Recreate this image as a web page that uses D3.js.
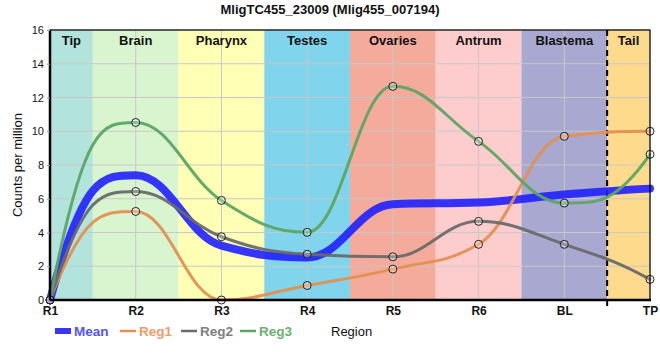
<!DOCTYPE html>
<html><head><meta charset="utf-8">
<script src="https://cdn.jsdelivr.net/npm/d3@7"></script>
<style>body{margin:0;background:#fff;font-family:Arial,"Liberation Sans",sans-serif}</style>
</head><body><svg id="c" width="660" height="360"></svg>
<script>
const categories = ["R1","R2","R3","R4","R5","R6","BL","TP"];
const yTicks = [0,2,4,6,8,10,12,14,16];
const regionNames = ["Tip","Brain","Pharynx","Testes","Ovaries","Antrum","Blastema","Tail"];
const regionColors = ["#b3e3dd","#d9f5d0","#ffffb6","#80d4eb","#f4ab9c","#fdcccc","#a8a8d0","#fdda8c"];
const meanValues = [0, 7.4, 3.22, 2.52, 5.68, 5.78, 6.25, 6.6];
const reg1Values = [0, 5.25, 0, 0.86, 1.83, 3.3, 9.7, 10.0];
const reg2Values = [0, 6.43, 3.75, 2.71, 2.56, 4.66, 3.3, 1.22];
const reg3Values = [0, 10.52, 5.9, 4.01, 12.66, 9.4, 5.74, 8.63];
const seriesNames = ["Mean","Reg1","Reg2","Reg3"];
const seriesColors = ["#2020ff","#e39050","#6a6a6a","#5ca564"];
const legendTextColors = ["#5555ff","#eb9d6c","#7f7f7f","#6db077"];

// smooth monotone-style Bezier curve (flat at local extrema, steep end tangents)
function smoothCurve(context){
  let xs, ys;
  return {
    areaStart(){}, areaEnd(){},
    lineStart(){ xs=[]; ys=[]; },
    point(x,y){ xs.push(+x); ys.push(+y); },
    lineEnd(){
      const n = xs.length; if(!n) return;
      context.moveTo(xs[0], ys[0]);
      if(n===1) return;
      const s = [];
      for(let i=0;i<n-1;i++) s.push((ys[i+1]-ys[i])/(xs[i+1]-xs[i]));
      const m = new Array(n).fill(0);
      for(let i=1;i<n-1;i++){
        const s0=s[i-1], s1=s[i];
        if(s0*s1<=0){ m[i]=0; continue; }
        const p=(s0+s1)/2;
        m[i]=(Math.sign(s0)+Math.sign(s1))*Math.min(Math.abs(s0),Math.abs(s1),0.5*Math.abs(p));
      }
      m[0] = n>2 ? 3*s[0]-2*m[1] : s[0];
      m[n-1] = n>2 ? 3*s[n-2]-2*m[n-2] : s[n-2];
      if(m[0]*s[0]<0) m[0]=0;
      if(m[n-1]*s[n-2]<0) m[n-1]=0;
      const k=0.4;
      const clamp=(v,a,b)=>Math.max(Math.min(a,b),Math.min(Math.max(a,b),v));
      for(let i=0;i<n-1;i++){
        const h=xs[i+1]-xs[i];
        const c1x=xs[i]+k*h, c2x=xs[i+1]-k*h;
        const c1y=clamp(ys[i]+k*h*m[i], ys[i], ys[i+1]);
        const c2y=clamp(ys[i+1]-k*h*m[i+1], ys[i], ys[i+1]);
        context.bezierCurveTo(c1x,c1y,c2x,c2y,xs[i+1],ys[i+1]);
      }
    }
  };
}

const svg = d3.select("#c");
const L=50,R=650,T=30,B=300;
const x = d3.scalePoint().domain(categories).range([L,R]);
const step = x.step();
const y = d3.scaleLinear().domain([0,16]).range([B,T]);

// bands
const bandEdges = [L];
for(let i=0;i<categories.length-1;i++) bandEdges.push(x(categories[i])+step/2);
bandEdges.push(R);
regionNames.forEach((n,i)=>{
  svg.append("rect").attr("x",bandEdges[i]).attr("y",T).attr("width",bandEdges[i+1]-bandEdges[i]).attr("height",B-T).attr("fill",regionColors[i]);
});

// grid
svg.append("g").selectAll("line").data(yTicks).join("line")
  .attr("x1",L).attr("x2",R).attr("y1",d=>y(d)).attr("y2",d=>y(d)).attr("stroke","#c8c8c8").attr("stroke-width",1);
svg.append("g").selectAll("line").data(categories).join("line")
  .attr("x1",d=>x(d)).attr("x2",d=>x(d)).attr("y1",T).attr("y2",B).attr("stroke","#c8c8c8").attr("stroke-width",1);

// band labels
regionNames.forEach((n,i)=>{
  svg.append("text").attr("x",(bandEdges[i]+bandEdges[i+1])/2).attr("y",45).attr("text-anchor","middle")
    .attr("font-size","13px").attr("font-weight","bold").attr("fill","#111").text(n);
});

// dashed line
svg.append("line").attr("x1",bandEdges[7]).attr("x2",bandEdges[7]).attr("y1",T).attr("y2",B+6)
  .attr("stroke","#000").attr("stroke-width",2).attr("stroke-dasharray","6,4");

// lines
const allSeries = [meanValues, reg1Values, reg2Values, reg3Values];
const line = d3.line().x((d,i)=>x(categories[i])).y(d=>y(d)).curve(smoothCurve);
allSeries.forEach((vals,si)=>{
  svg.append("path").attr("d",line(vals)).attr("fill","none").attr("stroke",seriesColors[si])
    .attr("stroke-width", si===0?8:3).attr("stroke-opacity", si===0?0.9:0.95).attr("stroke-linejoin","round").attr("stroke-linecap","round");
});
allSeries.forEach((vals,si)=>{
  if(si===0) return;
  svg.append("g").selectAll("circle").data(vals).join("circle")
    .attr("cx",(d,i)=>x(categories[i])).attr("cy",d=>y(d)).attr("r",4)
    .attr("fill","rgba(255,255,255,0.25)").attr("stroke","#222").attr("stroke-width",1);
});

// frame
svg.append("rect").attr("x",L).attr("y",T).attr("width",R-L).attr("height",B-T).attr("fill","none").attr("stroke","#000").attr("stroke-width",1.2);
svg.append("line").attr("x1",L).attr("x2",L).attr("y1",T).attr("y2",B+1).attr("stroke","#000").attr("stroke-width",2.5);
svg.append("line").attr("x1",L-1).attr("x2",R+1).attr("y1",B).attr("y2",B).attr("stroke","#000").attr("stroke-width",2.5);

// axes
const ya = svg.append("g").attr("transform",`translate(${L},0)`).call(d3.axisLeft(y).tickValues(yTicks).tickSize(3).tickFormat(d3.format("d")));
ya.select(".domain").remove();
ya.selectAll("line").attr("stroke","#999");
ya.selectAll("text").attr("font-size","11px").attr("font-family","Arial,'Liberation Sans',sans-serif").attr("fill","#111");
const xa = svg.append("g").attr("transform",`translate(0,${B})`).call(d3.axisBottom(x).tickSize(0).tickPadding(6));
xa.select(".domain").remove();
xa.selectAll("text").attr("font-size","12px").attr("font-weight","bold").attr("font-family","Arial,'Liberation Sans',sans-serif").attr("fill","#111");

svg.append("text").attr("transform","translate(22,165) rotate(-90)").attr("text-anchor","middle")
  .attr("font-size","13px").attr("fill","#111").text("Counts per million");
svg.append("text").attr("x",330).attr("y",14).attr("text-anchor","middle").attr("font-size","13px").attr("font-weight","bold").attr("fill","#111")
  .text("MligTC455_23009 (Mlig455_007194)");
svg.append("text").attr("x",331).attr("y",336).attr("font-size","13px").attr("fill","#111").text("Region");

// legend
const legX = [55,120,181,240];
seriesNames.forEach((n,i)=>{
  if(i===0) svg.append("rect").attr("x",legX[i]).attr("y",328).attr("width",16).attr("height",6).attr("fill",seriesColors[i]).attr("fill-opacity",0.9);
  else svg.append("line").attr("x1",legX[i]).attr("x2",legX[i]+16).attr("y1",331).attr("y2",331).attr("stroke",seriesColors[i]).attr("stroke-width",2.5);
  svg.append("text").attr("x",legX[i]+19).attr("y",336).attr("font-size","13.5px").attr("font-weight","bold").attr("fill",legendTextColors[i]).text(n);
});
</script></body></html>
